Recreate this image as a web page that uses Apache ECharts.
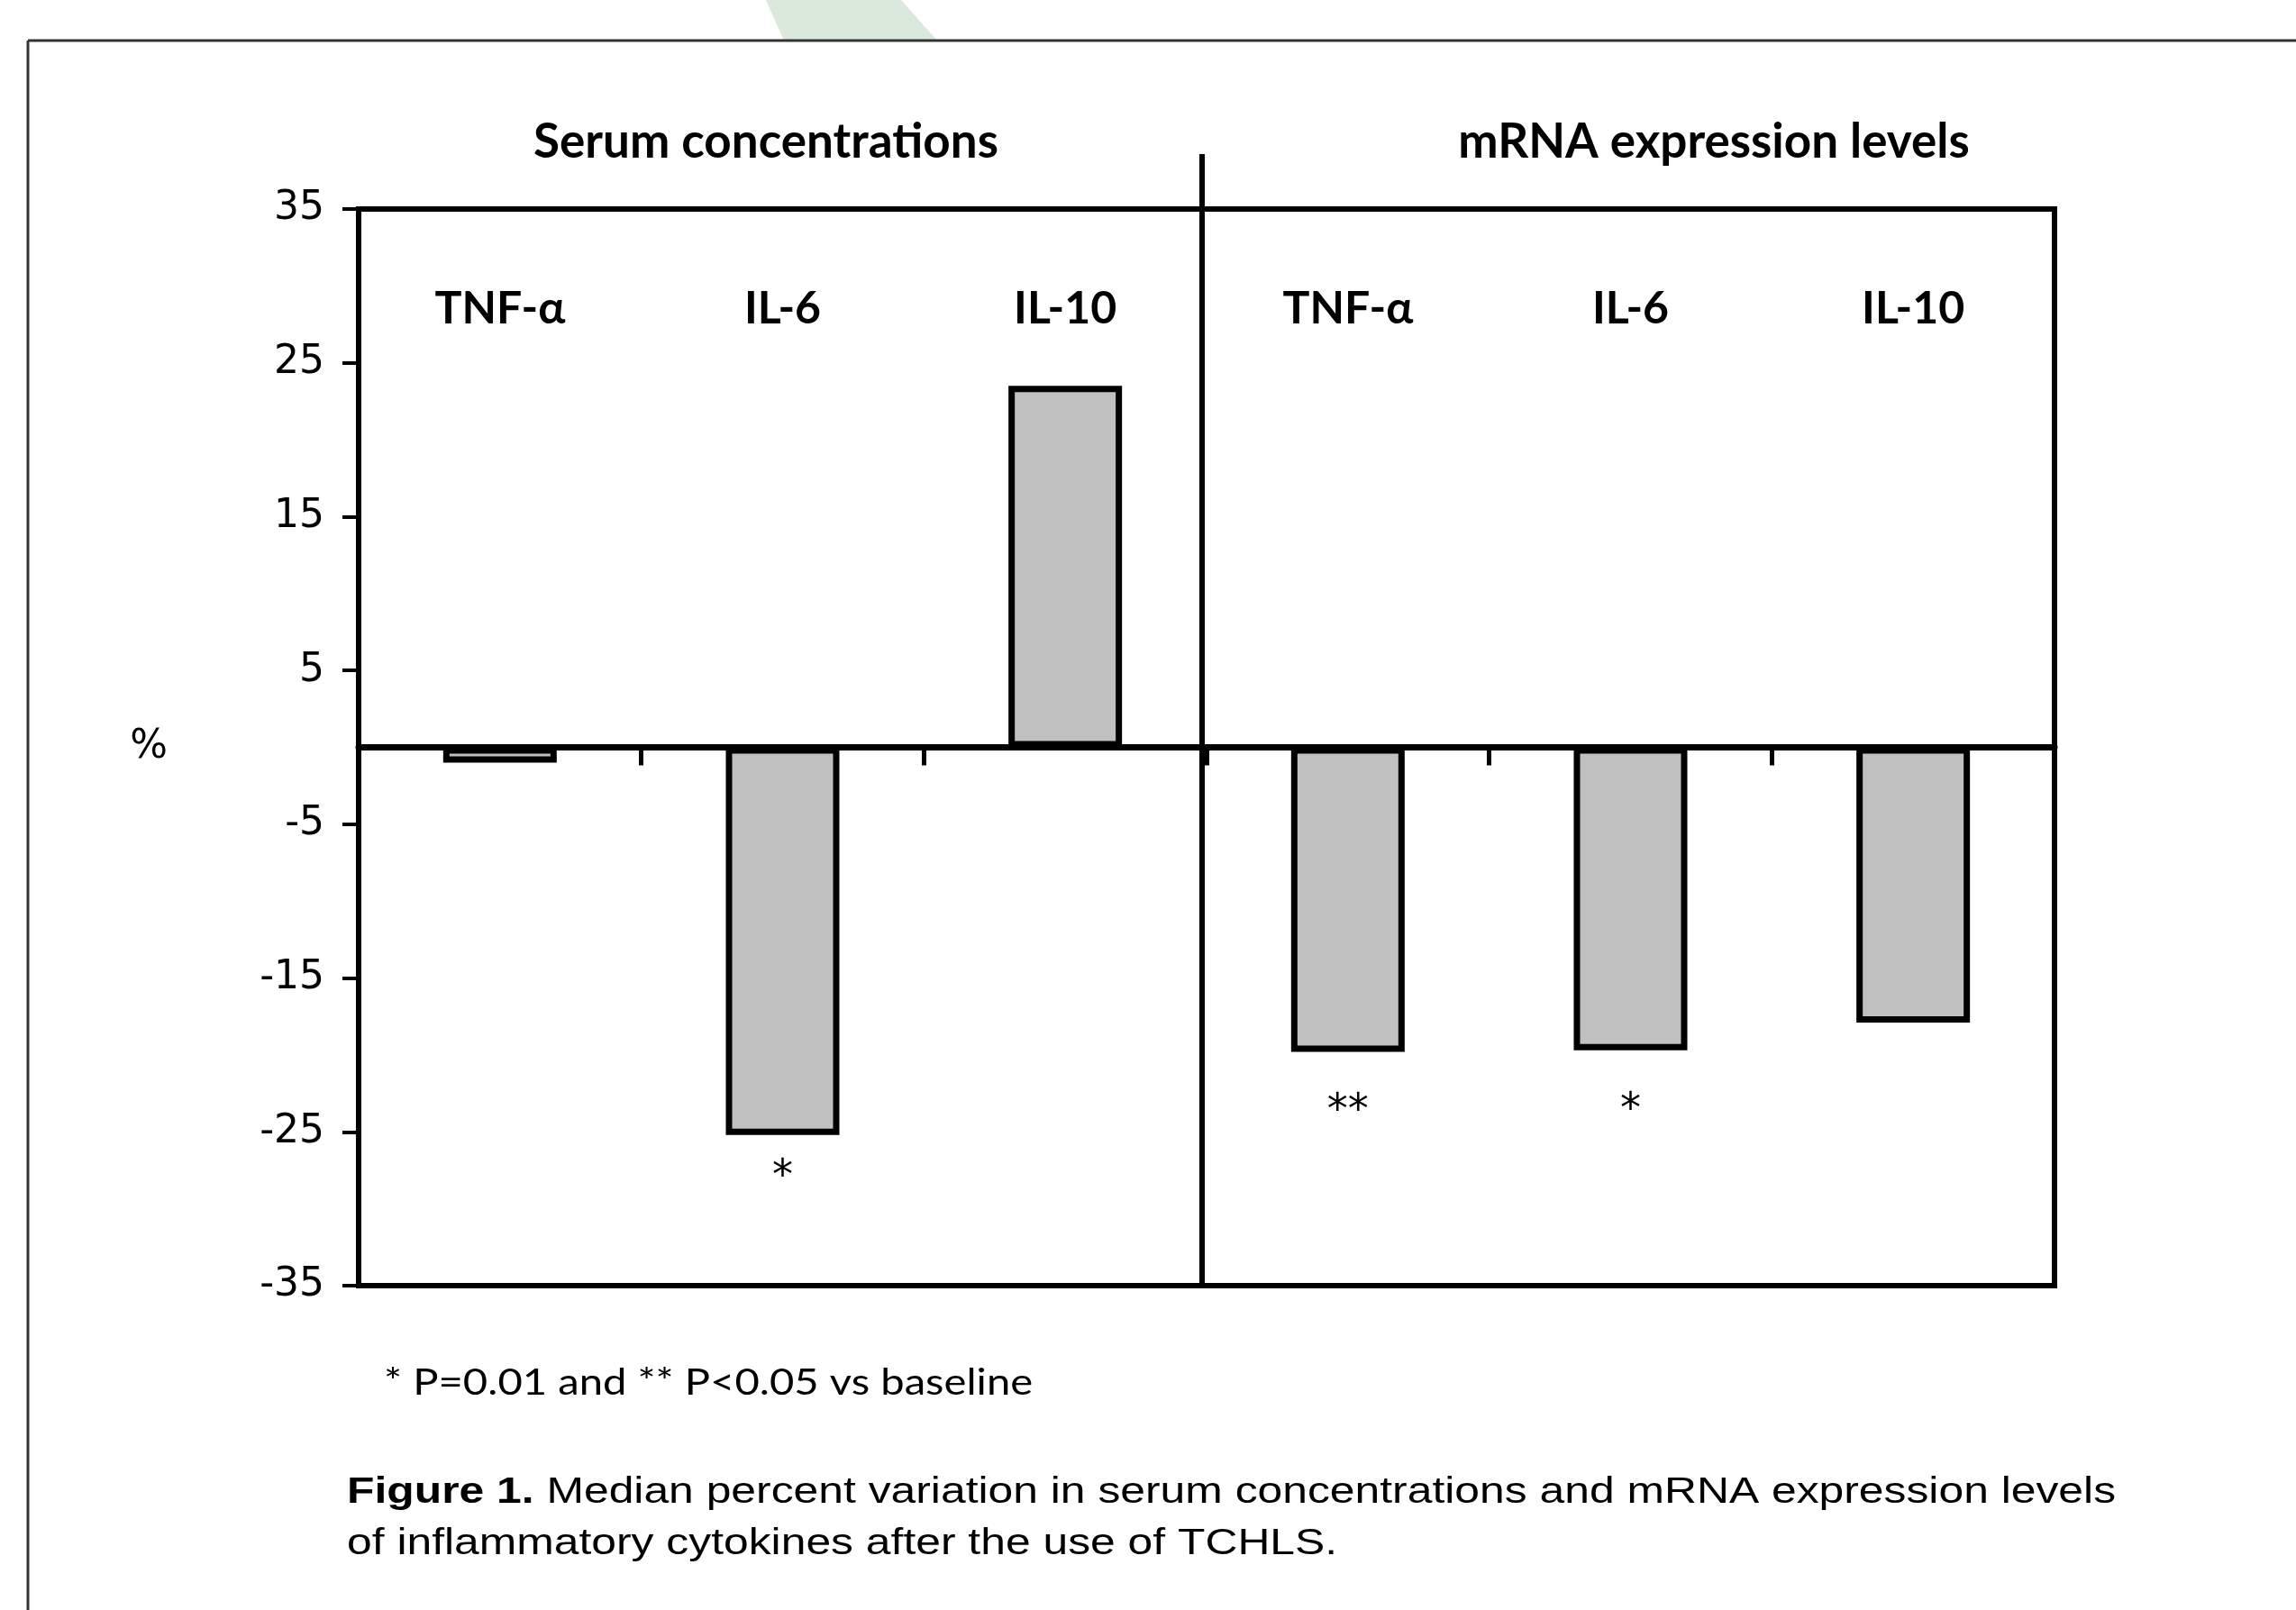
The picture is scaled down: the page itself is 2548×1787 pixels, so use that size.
<!DOCTYPE html>
<html>
<head>
<meta charset="utf-8">
<script src="https://cdn.jsdelivr.net/npm/echarts@6/dist/echarts.min.js"></script>
<style>
  html, body { margin: 0; padding: 0; background: #fff; }
  #chart { width: 2548px; height: 1787px; }
</style>
</head>
<body>
<div id="chart"></div>
<script>
// median % variation after TCHLS: serum (first 3) and mRNA (last 3)
const categories = ["TNF-α", "IL-6", "IL-10", "TNF-α", "IL-6", "IL-10"];
const percentChange = [-1.0, -25.2, 23.5, -19.8, -19.7, -17.9];
const significance = ["", "*", "", "**", "*", ""];
const yTicks = [-35, -25, -15, -5, 5, 15, 25, 35];
const panelTitles = ["Serum concentrations", "mRNA expression levels"];
const footnote = "* P=0.01 and ** P<0.05 vs baseline";
const captionLead = "Figure 1.";
const captionLine1 = " Median percent variation in serum concentrations and mRNA expression levels";
const captionLine2 = "of inflammatory cytokines after the use of TCHLS.";

const chart = echarts.init(document.getElementById("chart"));

// star labels sit a bit further under the mRNA bars than under the serum one
const barData = percentChange.map((v, i) => ({
  value: v,
  label: { distance: i < 3 ? 24 : 44 }
}));

const option = {
  backgroundColor: "#fff",
  animation: false,
  grid: {
    left: 398,
    right: 268,
    top: 232,
    bottom: 360,
    show: true,
    borderColor: "#000",
    borderWidth: 6
  },
  xAxis: [
    {
      type: "category",
      data: categories,
      position: "bottom",
      axisLine: { onZero: true, lineStyle: { color: "#000", width: 7 } },
      axisTick: { show: true, interval: 0, length: 20, lineStyle: { color: "#000", width: 5 } },
      axisLabel: { show: false },
      splitLine: { show: false }
    },
    {
      // category names drawn inside the top of the box
      type: "category",
      data: categories,
      position: "top",
      axisLine: { show: false, onZero: false },
      axisTick: { show: false },
      axisLabel: {
        show: true,
        inside: true,
        interval: 0,
        margin: 86,
        color: "#000",
        fontFamily: "Lato",
        fontWeight: "bold",
        fontSize: 50
      },
      splitLine: { show: false }
    }
  ],
  yAxis: {
    type: "value",
    min: -35,
    max: 35,
    interval: 10,
    name: "%",
    nameLocation: "middle",
    nameRotate: 0,
    nameGap: 212,
    nameTextStyle: { color: "#000", fontFamily: "DejaVu Sans", fontSize: 44 },
    axisLine: { show: true, lineStyle: { color: "#000", width: 6 } },
    axisTick: { show: true, customValues: yTicks, length: 18, lineStyle: { color: "#000", width: 4 } },
    axisLabel: {
      customValues: yTicks,
      margin: 38,
      color: "#000",
      fontFamily: "DejaVu Sans",
      fontSize: 44
    },
    splitLine: { show: false }
  },
  series: [
    {
      type: "bar",
      data: barData,
      barWidth: 126,
      itemStyle: { color: "#c0c0c0", borderColor: "#000", borderWidth: 7 },
      label: {
        show: true,
        position: "outside",
        distance: 24,
        color: "#000",
        fontFamily: "DejaVu Sans",
        fontSize: 46,
        formatter: (p) => significance[p.dataIndex]
      }
    }
  ]
};

chart.setOption(option);

// separator between the two panels sits on the boundary of categories 3 and 4
const xa = chart.convertToPixel({ xAxisIndex: 0 }, 2);
const xb = chart.convertToPixel({ xAxisIndex: 0 }, 3);
const xSep = (xa + xb) / 2 - 5;
const yBottom = chart.convertToPixel({ yAxisIndex: 0 }, -35);

chart.setOption({
  graphic: [
    // faint watermark
    {
      type: "polygon",
      shape: { points: [[850, 0], [1000, 0], [1040, 45], [870, 45]] },
      style: { fill: "#dbe8dc" },
      z: 0
    },
    // figure frame (top and left edges)
    { type: "line", shape: { x1: 31, y1: 45, x2: 2548, y2: 45 }, style: { stroke: "#333", lineWidth: 3 } },
    { type: "line", shape: { x1: 31, y1: 45, x2: 31, y2: 1787 }, style: { stroke: "#333", lineWidth: 3 } },
    // panel separator
    {
      type: "line",
      shape: { x1: xSep, y1: 171, x2: xSep, y2: yBottom },
      style: { stroke: "#000", lineWidth: 6 },
      z: 10
    },
    {
      type: "text",
      x: 850,
      y: 158,
      style: {
        text: panelTitles[0],
        fill: "#000",
        font: "bold 53px Lato",
        textAlign: "center",
        textVerticalAlign: "middle"
      }
    },
    {
      type: "text",
      x: 1902,
      y: 158,
      style: {
        text: panelTitles[1],
        fill: "#000",
        font: "bold 53px Lato",
        textAlign: "center",
        textVerticalAlign: "middle"
      }
    },
    {
      type: "text",
      x: 426,
      y: 1535,
      scaleX: 1.18,
      style: {
        text: footnote,
        fill: "#000",
        font: "40px Lato",
        textAlign: "left",
        textVerticalAlign: "middle"
      }
    },
    {
      type: "text",
      x: 385,
      y: 1657,
      scaleX: 1.215,
      style: {
        text: "{b|" + captionLead + "}{r|" + captionLine1 + "}",
        textAlign: "left",
        textVerticalAlign: "middle",
        rich: {
          b: { fontFamily: "Liberation Sans", fontWeight: "bold", fontSize: 41, fill: "#000" },
          r: { fontFamily: "Liberation Sans", fontSize: 41, fill: "#000" }
        }
      }
    },
    {
      type: "text",
      x: 385,
      y: 1714,
      scaleX: 1.215,
      style: {
        text: captionLine2,
        fill: "#000",
        font: "41px Liberation Sans",
        textAlign: "left",
        textVerticalAlign: "middle"
      }
    }
  ]
});
</script>
</body>
</html>
